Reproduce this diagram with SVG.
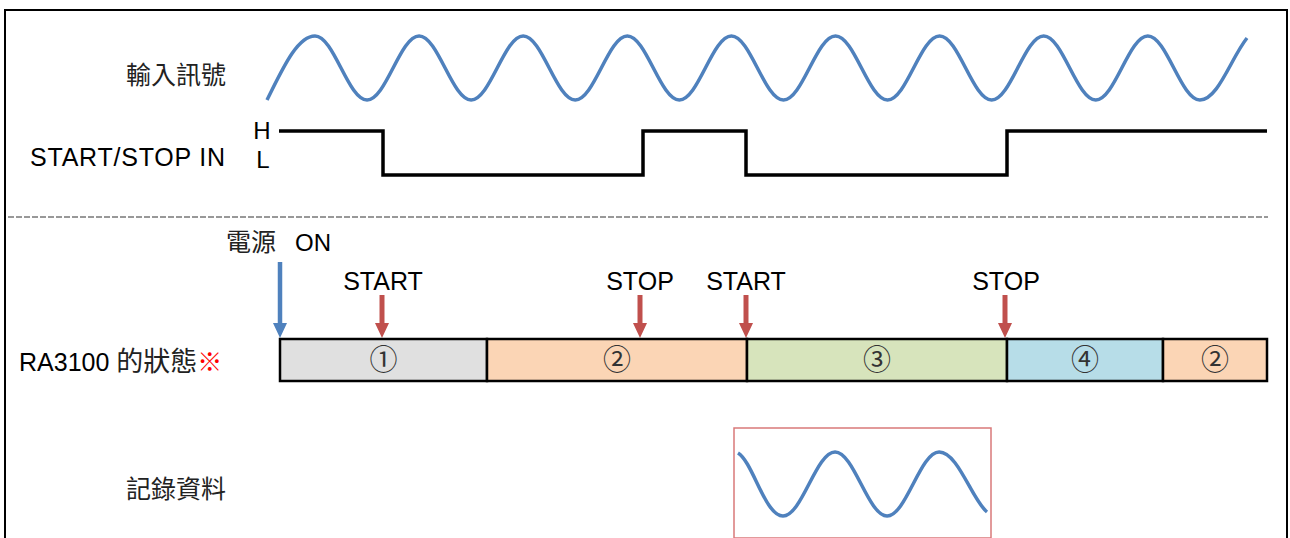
<svg xmlns="http://www.w3.org/2000/svg" width="1290" height="538" viewBox="0 0 1290 538">
<style>
.lat{font-family:"Liberation Sans",Arial,sans-serif;fill:#000;}
.cjk{font-family:"Noto Sans CJK TC","Noto Sans CJK SC",sans-serif;fill:#222;}
.num{font-family:"Liberation Serif","Noto Sans CJK JP",serif;fill:#333;font-size:28px;text-anchor:middle;}
.wave{fill:none;stroke:#4F81BD;stroke-width:3.5;stroke-linecap:butt;stroke-linejoin:round;}
.sig{fill:none;stroke:#000;stroke-width:3.5;stroke-linejoin:miter;}
.box{stroke:#000;stroke-width:2.5;}
.red{stroke:#C0504D;stroke-width:5;}
.blue{stroke:#4F81BD;stroke-width:4.5;}
</style>
<defs>
<marker id="hr" viewBox="0 0 15 14" refX="1" refY="7" markerWidth="15" markerHeight="14" markerUnits="userSpaceOnUse" orient="auto"><path d="M0,0 L15,7 L0,14 z" fill="#C0504D"/></marker>
<marker id="hb" viewBox="0 0 15 14" refX="1" refY="7" markerWidth="15" markerHeight="14" markerUnits="userSpaceOnUse" orient="auto"><path d="M0,0 L15,7 L0,14 z" fill="#4F81BD"/></marker>
</defs>
<rect width="1290" height="538" fill="#fff"/>
<rect x="5" y="10" width="1282" height="600" fill="none" stroke="#000" stroke-width="2"/>
<line x1="8" y1="217" x2="1268" y2="217" stroke="#333" stroke-width="1" stroke-dasharray="6,2"/>

<g id="labels">
<text class="cjk" x="226" y="84" font-size="25" text-anchor="end">輸入訊號</text>
<text class="lat" x="30" y="166" font-size="25" textLength="195" lengthAdjust="spacing">START/STOP IN</text>
<text class="lat" x="262" y="139" font-size="24" text-anchor="middle">H</text>
<text class="lat" x="263" y="168" font-size="24" text-anchor="middle">L</text>
<text x="19" y="371" font-size="25"><tspan class="lat">RA3100 </tspan><tspan class="cjk" font-size="27">的狀態</tspan><tspan class="cjk" style="fill:#F00" font-size="25">※</tspan></text>
<text class="cjk" x="226" y="498" font-size="25" text-anchor="end">記錄資料</text>
</g>

<g id="input-signal">
<path class="wave" d="M267,100 C282,70 297,36 315,36 c18.92,0 33.13,64 52.05,64 c18.92,0 33.13,-64 52.05,-64 c18.92,0 33.13,64 52.05,64 c18.92,0 33.13,-64 52.05,-64 c18.92,0 33.13,64 52.05,64 c18.92,0 33.13,-64 52.05,-64 c18.92,0 33.13,64 52.05,64 c18.92,0 33.13,-64 52.05,-64 c18.92,0 33.13,64 52.05,64 c18.92,0 33.13,-64 52.05,-64 c18.92,0 33.13,64 52.05,64 c18.92,0 33.13,-64 52.05,-64 c18.92,0 33.13,64 52.05,64 c18.92,0 33.13,-64 52.05,-64 c18.92,0 33.13,64 52.05,64 c18.92,0 33.13,-64 52.05,-64 c18.92,0 33.13,64 52.05,64 C1218,100 1231,58 1247,38"/>
</g>

<g id="start-stop-in">
<path class="sig" d="M279,131 H383 V175 H643 V131 H746 V175 H1007 V131 H1267"/>
</g>

<g id="power-on">
<text x="226" y="251" font-size="24"><tspan class="cjk" font-size="25">電源</tspan><tspan class="lat" x="295">ON</tspan></text>
</g>

<g id="connectors">
<line class="blue" x1="280" y1="262" x2="280" y2="324" marker-end="url(#hb)"/>
<line class="red" x1="382" y1="295" x2="382" y2="324" marker-end="url(#hr)"/>
<line class="red" x1="640" y1="295" x2="640" y2="324" marker-end="url(#hr)"/>
<line class="red" x1="746" y1="295" x2="746" y2="324" marker-end="url(#hr)"/>
<line class="red" x1="1005" y1="295" x2="1005" y2="324" marker-end="url(#hr)"/>
</g>

<g id="events">
<text class="lat" x="383" y="290" font-size="25" text-anchor="middle">START</text>
<text class="lat" x="640" y="290" font-size="25" text-anchor="middle">STOP</text>
<text class="lat" x="746" y="290" font-size="25" text-anchor="middle">START</text>
<text class="lat" x="1006" y="290" font-size="25" text-anchor="middle">STOP</text>
</g>

<g id="state-1"><rect class="box" x="280" y="339" width="207" height="42" fill="#E0E0E0"/><text class="num" x="383.5" y="370">①</text></g>
<g id="state-2"><rect class="box" x="487" y="339" width="260" height="42" fill="#FBD5B5"/><text class="num" x="617" y="370">②</text></g>
<g id="state-3"><rect class="box" x="747" y="339" width="260" height="42" fill="#D7E4BC"/><text class="num" x="877" y="370">③</text></g>
<g id="state-4"><rect class="box" x="1007" y="339" width="156" height="42" fill="#B7DDE8"/><text class="num" x="1085" y="370">④</text></g>
<g id="state-2b"><rect class="box" x="1163" y="339" width="104" height="42" fill="#FBD5B5"/><text class="num" x="1215" y="370">②</text></g>

<g id="recorded">
<rect x="734" y="428" width="257" height="110" fill="none" stroke="#D9797A" stroke-width="1.5"/>
<path class="wave" d="M738,453 C753,462 765,516 783,516 c18.92,0 33.13,-64 52.05,-64 c18.92,0 33.13,64 52.05,64 c18.92,0 33.13,-64 52.05,-64 C958,452 972,500 987,512"/>
</g>
</svg>
